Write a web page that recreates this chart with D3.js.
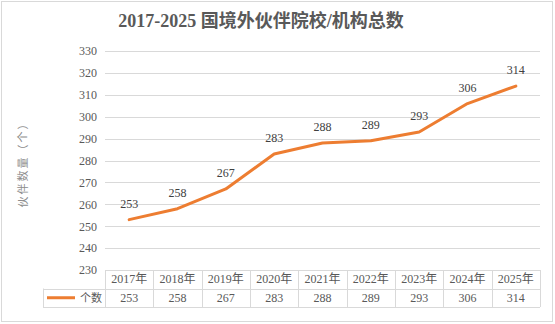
<!DOCTYPE html>
<html>
<head>
<meta charset="utf-8">
<script src="https://cdn.jsdelivr.net/npm/d3@7"></script>
<style>
  html, body { margin: 0; padding: 0; background: #fff; }
  svg { display: block; }
  text { font-family: "Liberation Serif", "Noto Sans CJK SC", serif; }
</style>
</head>
<body>
<svg id="chart" width="555" height="324"></svg>
<script>
// Partner institutions per year
const years = ["2017年", "2018年", "2019年", "2020年", "2021年", "2022年", "2023年", "2024年", "2025年"];
const counts = [253, 258, 267, 283, 288, 289, 293, 306, 314];
const yTicks = [230, 240, 250, 260, 270, 280, 290, 300, 310, 320, 330];
const seriesName = "个数";
const titleText = "2017-2025 国境外伙伴院校/机构总数";
const yTitle = "伙伴数量（个）";

const svg = d3.select("#chart");
const W = 555, H = 324;
const plot = { left: 105, right: 540, top: 51, bottom: 270 };
const rowH = 18.5;
const orange = "#ED7D31";
const gridCol = "#d9d9d9";

// outer frame
svg.append("rect")
  .attr("x", 1.5).attr("y", 1.5).attr("width", 551).attr("height", 320)
  .attr("fill", "#fff").attr("stroke", "#d9d9d9").attr("stroke-width", 1);

// title
svg.append("text")
  .attr("x", 261).attr("y", 27)
  .attr("text-anchor", "middle")
  .attr("font-size", 18).attr("font-weight", "bold")
  .attr("fill", "#595959")
  .text(titleText);

const x = d3.scaleBand().domain(years).range([plot.left, plot.right]);
const y = d3.scaleLinear().domain([230, 330]).range([plot.bottom, plot.top]);

// horizontal gridlines
svg.append("g").selectAll("line").data(yTicks).join("line")
  .attr("x1", plot.left).attr("x2", plot.right)
  .attr("y1", d => Math.round(y(d)) + 0.5).attr("y2", d => Math.round(y(d)) + 0.5)
  .attr("stroke", gridCol).attr("stroke-width", 1);

// y axis labels
const yAxis = d3.axisLeft(y).tickValues(yTicks).tickSize(0).tickPadding(0);
const gy = svg.append("g").attr("transform", `translate(${plot.left - 8},0)`).call(yAxis);
gy.select(".domain").remove();
gy.selectAll("text")
  .attr("font-family", "Liberation Serif, serif")
  .attr("font-size", 12).attr("fill", "#595959");

// y axis title
svg.append("text")
  .attr("transform", "translate(27,162) rotate(-90)")
  .attr("text-anchor", "middle")
  .attr("font-size", 11).attr("fill", "#8c8c8c")
  .attr("letter-spacing", 2)
  .text(yTitle);

// the line
const line = d3.line()
  .x((d, i) => x(years[i]) + x.bandwidth() / 2)
  .y(d => y(d));
svg.append("path")
  .datum(counts)
  .attr("d", line)
  .attr("fill", "none")
  .attr("stroke", orange).attr("stroke-width", 3)
  .attr("stroke-linejoin", "round").attr("stroke-linecap", "round");

// data labels
svg.append("g").selectAll("text").data(counts).join("text")
  .attr("x", (d, i) => x(years[i]) + x.bandwidth() / 2)
  .attr("y", d => y(d) - 12)
  .attr("text-anchor", "middle")
  .attr("font-size", 12).attr("fill", "#404040")
  .text(d => d);

// data table below the plot
const tTop = plot.bottom, tMid = tTop + rowH, tBot = tMid + rowH;
const legendLeft = 43;
const tg = svg.append("g").attr("stroke", gridCol).attr("stroke-width", 1).attr("fill", "none");
const hl = (x1, x2, yy) => tg.append("line").attr("x1", x1).attr("x2", x2).attr("y1", Math.round(yy) + 0.5).attr("y2", Math.round(yy) + 0.5);
const vl = (xx, y1, y2) => tg.append("line").attr("x1", Math.round(xx) + 0.5).attr("x2", Math.round(xx) + 0.5).attr("y1", y1).attr("y2", y2);
hl(legendLeft, plot.right, tMid);
hl(legendLeft, plot.right, tBot);
vl(legendLeft, tMid, tBot);
years.forEach(yr => vl(x(yr), tTop, tBot));
vl(plot.right, tTop, tBot);

svg.append("g").selectAll("text").data(years).join("text")
  .attr("x", d => x(d) + x.bandwidth() / 2)
  .attr("y", tTop + rowH / 2 + 4)
  .attr("text-anchor", "middle")
  .attr("font-size", 12).attr("fill", "#595959")
  .text(d => d);

svg.append("g").selectAll("text").data(counts).join("text")
  .attr("x", (d, i) => x(years[i]) + x.bandwidth() / 2)
  .attr("y", tMid + rowH / 2 + 4)
  .attr("text-anchor", "middle")
  .attr("font-size", 12).attr("fill", "#595959")
  .text(d => d);

// legend key inside the table
svg.append("line")
  .attr("x1", 47).attr("x2", 75)
  .attr("y1", tMid + rowH / 2).attr("y2", tMid + rowH / 2)
  .attr("stroke", orange).attr("stroke-width", 3);
svg.append("text")
  .attr("x", 80).attr("y", tMid + rowH / 2 + 4)
  .attr("font-size", 11).attr("fill", "#595959")
  .text(seriesName);
</script>
</body>
</html>
